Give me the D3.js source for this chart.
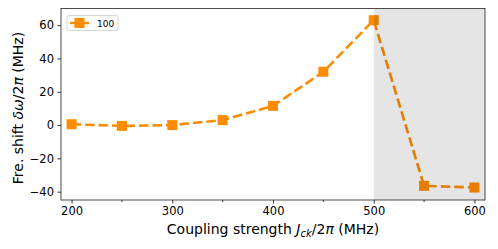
<!DOCTYPE html>
<html>
<head>
<meta charset="utf-8">
<script src="https://cdn.jsdelivr.net/npm/d3@7"></script>
<style>
  body { margin: 0; background: #fff; }
  text { font-family: "DejaVu Sans", sans-serif; }
</style>
</head>
<body>
<div id="chart"></div>
<script>
// data
var coupling = [200, 250, 300, 350, 400, 450, 500, 550, 600];
var shift = [0.5, -0.5, 0, 3, 11.5, 32, 63, -36.5, -37.5];
var seriesName = "100";
var xTicks = [200, 300, 400, 500, 600];
var xMinor = [250, 350, 450, 550];
var yTicks = [-40, -20, 0, 20, 40, 60];
var shadeFrom = 500;

var width = 498, height = 249;
var margin = {top: 8.5, right: 13, bottom: 49, left: 61};
var orange = "#ff8c00";

var svg = d3.select("#chart").append("svg")
  .attr("width", width)
  .attr("height", height);

var x = d3.scaleLinear().domain([189.5, 610.5]).range([margin.left, width - margin.right]);
var y = d3.scaleLinear().domain([-45, 70]).range([height - margin.bottom, margin.top]);

var data = coupling.map(function(c, i) { return {x: c, y: shift[i]}; });

// line + markers
var line = d3.line().x(function(d) { return x(d.x); }).y(function(d) { return y(d.y); });
svg.append("path")
  .datum(data)
  .attr("d", line)
  .attr("fill", "none")
  .attr("stroke", orange)
  .attr("stroke-width", 2.6)
  .attr("stroke-dasharray", "9.5,4");

var ms = 10;
svg.selectAll(".pt")
  .data(data)
  .enter().append("rect")
  .attr("class", "pt")
  .attr("x", function(d) { return x(d.x) - ms / 2; })
  .attr("y", function(d) { return y(d.y) - ms / 2; })
  .attr("width", ms)
  .attr("height", ms)
  .attr("fill", orange);

// shaded region drawn on top, like axvspan
svg.append("rect")
  .attr("x", x(shadeFrom))
  .attr("y", margin.top)
  .attr("width", x.range()[1] - x(shadeFrom))
  .attr("height", y.range()[0] - margin.top)
  .attr("fill", "#000")
  .attr("fill-opacity", 0.1);

// axes
var xAxis = svg.append("g")
  .attr("transform", "translate(0," + y.range()[0] + ")")
  .call(d3.axisBottom(x).tickValues(xTicks).tickSize(3.5).tickPadding(3.5).tickFormat(d3.format("d")));
xAxis.selectAll("text").style("font-size", "11.5px").attr("fill", "#000");

svg.append("g")
  .attr("transform", "translate(0," + y.range()[0] + ")")
  .selectAll("line")
  .data(xMinor)
  .enter().append("line")
  .attr("x1", function(d) { return x(d); })
  .attr("x2", function(d) { return x(d); })
  .attr("y1", 0).attr("y2", 2)
  .attr("stroke", "#000").attr("stroke-width", 0.8);

var yAxis = svg.append("g")
  .attr("transform", "translate(" + margin.left + ",0)")
  .call(d3.axisLeft(y).tickValues(yTicks).tickSize(3.5).tickPadding(3.5)
    .tickFormat(function(d) { return d < 0 ? "\u2212" + Math.abs(d) : d; }));
yAxis.selectAll("text").style("font-size", "11.5px").attr("fill", "#000");

[xAxis, yAxis].forEach(function(a) {
  a.select(".domain").remove();
  a.selectAll("line").attr("stroke", "#000").attr("stroke-width", 0.8);
});

// frame
svg.append("rect")
  .attr("x", margin.left)
  .attr("y", margin.top)
  .attr("width", x.range()[1] - margin.left)
  .attr("height", y.range()[0] - margin.top)
  .attr("fill", "none")
  .attr("stroke", "#222")
  .attr("stroke-width", 0.8);

// axis labels
var xl = svg.append("text")
  .attr("x", 273)
  .attr("y", 234)
  .attr("text-anchor", "middle")
  .style("font-size", "14px");
xl.append("tspan").text("Coupling strength ");
xl.append("tspan").style("font-style", "italic").text("J");
xl.append("tspan").style("font-style", "italic").style("font-size", "10px").attr("dy", 2.5).text("ck");
xl.append("tspan").attr("dy", -2.5).text("/2");
xl.append("tspan").style("font-style", "italic").text("\u03c0");
xl.append("tspan").text(" (MHz)");

var yl = svg.append("text")
  .attr("transform", "translate(23,108) rotate(-90)")
  .attr("text-anchor", "middle")
  .style("font-size", "14px");
yl.append("tspan").text("Fre. shift ");
yl.append("tspan").style("font-style", "italic").text("\u03b4\u03c9");
yl.append("tspan").text("/2");
yl.append("tspan").style("font-style", "italic").text("\u03c0");
yl.append("tspan").text(" (MHz)");

// legend
var lg = svg.append("g").attr("transform", "translate(" + (margin.left + 6) + "," + (margin.top + 7) + ")");
lg.append("rect")
  .attr("width", 51).attr("height", 15).attr("rx", 2)
  .attr("fill", "#fff").attr("fill-opacity", 0.8)
  .attr("stroke", "#ccc").attr("stroke-width", 0.8);
lg.append("line")
  .attr("x1", 3).attr("x2", 22).attr("y1", 7.5).attr("y2", 7.5)
  .attr("stroke", orange).attr("stroke-width", 2.6).attr("stroke-dasharray", "9.5,4");
lg.append("rect")
  .attr("x", 12.5 - ms / 2).attr("y", 7.5 - ms / 2)
  .attr("width", ms).attr("height", ms).attr("fill", orange);
lg.append("text")
  .attr("x", 30).attr("y", 11)
  .style("font-size", "9px")
  .text(seriesName);
</script>
</body>
</html>
